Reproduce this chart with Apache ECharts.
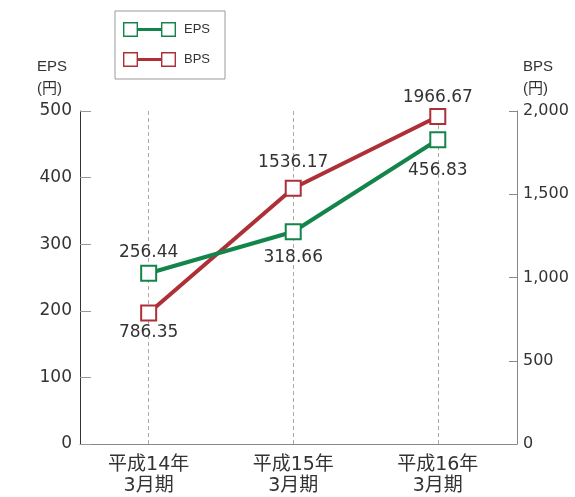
<!DOCTYPE html>
<html>
<head>
<meta charset="utf-8">
<script src="https://cdn.jsdelivr.net/npm/echarts@6/dist/echarts.min.js"></script>
<style>
  html, body { margin: 0; padding: 0; background: #fff; }
  #chart { width: 575px; height: 497px; }
</style>
</head>
<body>
<div id="chart"></div>
<script>
const categories = ['平成14年\n3月期', '平成15年\n3月期', '平成16年\n3月期'];
const epsValues = [256.44, 318.66, 456.83];
const bpsValues = [786.35, 1536.17, 1966.67];
const epsTicks = [0, 100, 200, 300, 400, 500];
const bpsTicks = [0, 500, 1000, 1500, 2000];

// label placement (style, not data)
const epsLabelPos = [['top', 4], ['bottom', 9], ['bottom', 14]];
const bpsLabelPos = [['bottom', 3], ['top', 9], ['top', 2]];

const GREEN = '#14854a';
const RED = '#ae2f37';
const NUM_FONT = '"DejaVu Sans", "Noto Sans CJK JP", sans-serif';
const JP_FONT = '"Liberation Sans", "Noto Sans CJK JP", sans-serif';

const iconPath = 'path://M0 0L15 0L15 15L0 15Z M1.4 1.4L1.4 13.6L13.6 13.6L13.6 1.4Z ' +
  'M38 0L53 0L53 15L38 15Z M39.4 1.4L39.4 13.6L51.6 13.6L51.6 1.4Z ' +
  'M15 6L38 6L38 9L15 9Z';

function buildData(values, pos) {
  return values.map((v, i) => ({
    value: [i, v],
    label: { position: pos[i][0], distance: pos[i][1] }
  }));
}

const chart = echarts.init(document.getElementById('chart'), null, { renderer: 'canvas' });
chart.setOption({
  animation: false,
  backgroundColor: '#fff',
  textStyle: { fontFamily: NUM_FONT },
  grid: { left: 80, right: 58, top: 111, bottom: 53, containLabel: false },
  legend: {
    orient: 'vertical',
    left: 115,
    top: 11,
    padding: [11, 15, 12, 8],
    itemGap: 15,
    itemWidth: 53,
    itemHeight: 15,
    borderColor: '#9a9a9a',
    borderWidth: 1,
    icon: iconPath,
    itemStyle: { borderWidth: 0 },
    textStyle: { fontFamily: JP_FONT, fontSize: 13, color: '#333', padding: [0, 0, 0, 3] },
    data: ['EPS', 'BPS']
  },
  graphic: [
    { type: 'text', left: 37, top: 56, style: { text: 'EPS\n(円)', font: '15px ' + JP_FONT, fill: '#333', lineHeight: 22 } },
    { type: 'text', left: 523, top: 56, style: { text: 'BPS\n(円)', font: '15px ' + JP_FONT, fill: '#333', lineHeight: 22 } }
  ],
  xAxis: {
    type: 'value',
    min: -0.475,
    max: 2.548,
    axisLine: { show: true, onZero: false, lineStyle: { color: '#888', width: 1 } },
    axisTick: { show: false },
    splitLine: { show: false },
    axisLabel: {
      customValues: [0, 1, 2],
      formatter: (v) => categories[Math.round(v)] || '',
      fontFamily: NUM_FONT,
      fontSize: 19,
      lineHeight: 21,
      color: '#333',
      margin: 11
    }
  },
  yAxis: [
    {
      type: 'value', min: 0, max: 500, interval: 100, position: 'left',
      axisLine: { show: true, onZero: false, lineStyle: { color: '#333', width: 1 } },
      axisTick: { show: true, inside: true, length: 11, lineStyle: { color: '#999' } },
      splitLine: { show: false },
      axisLabel: {
        customValues: epsTicks,
        fontFamily: NUM_FONT, fontSize: 17, color: '#333', margin: 8
      }
    },
    {
      type: 'value', min: 0, max: 2000, interval: 500, position: 'right',
      axisLine: { show: true, onZero: false, lineStyle: { color: '#888', width: 1 } },
      axisTick: { show: true, inside: true, length: 8, lineStyle: { color: '#888' } },
      splitLine: { show: false },
      axisLabel: {
        customValues: bpsTicks,
        formatter: (v) => v.toLocaleString('en-US'),
        fontFamily: NUM_FONT, fontSize: 16, color: '#333', margin: 6
      }
    }
  ],
  series: [
    {
      name: 'EPS',
      type: 'line',
      yAxisIndex: 0,
      data: buildData(epsValues, epsLabelPos),
      symbol: 'emptyRect',
      symbolSize: 15,
      lineStyle: { color: GREEN, width: 4 },
      itemStyle: { color: GREEN, borderWidth: 1.5 },
      label: {
        show: true,
        formatter: (p) => p.value[1].toFixed(2),
        fontFamily: NUM_FONT, fontSize: 17, color: '#333'
      },
      markLine: {
        silent: true,
        symbol: ['none', 'none'],
        z: 1,
        label: { show: false },
        lineStyle: { color: '#aaa', type: [4, 3], width: 1 },
        data: [{ xAxis: 0 }, { xAxis: 1 }, { xAxis: 2 }]
      },
      z: 3
    },
    {
      name: 'BPS',
      type: 'line',
      yAxisIndex: 1,
      data: buildData(bpsValues, bpsLabelPos),
      symbol: 'emptyRect',
      symbolSize: 15,
      lineStyle: { color: RED, width: 4 },
      itemStyle: { color: RED, borderWidth: 1.5 },
      label: {
        show: true,
        formatter: (p) => p.value[1].toFixed(2),
        fontFamily: NUM_FONT, fontSize: 17, color: '#333'
      },
      z: 2
    }
  ]
});
</script>
</body>
</html>
